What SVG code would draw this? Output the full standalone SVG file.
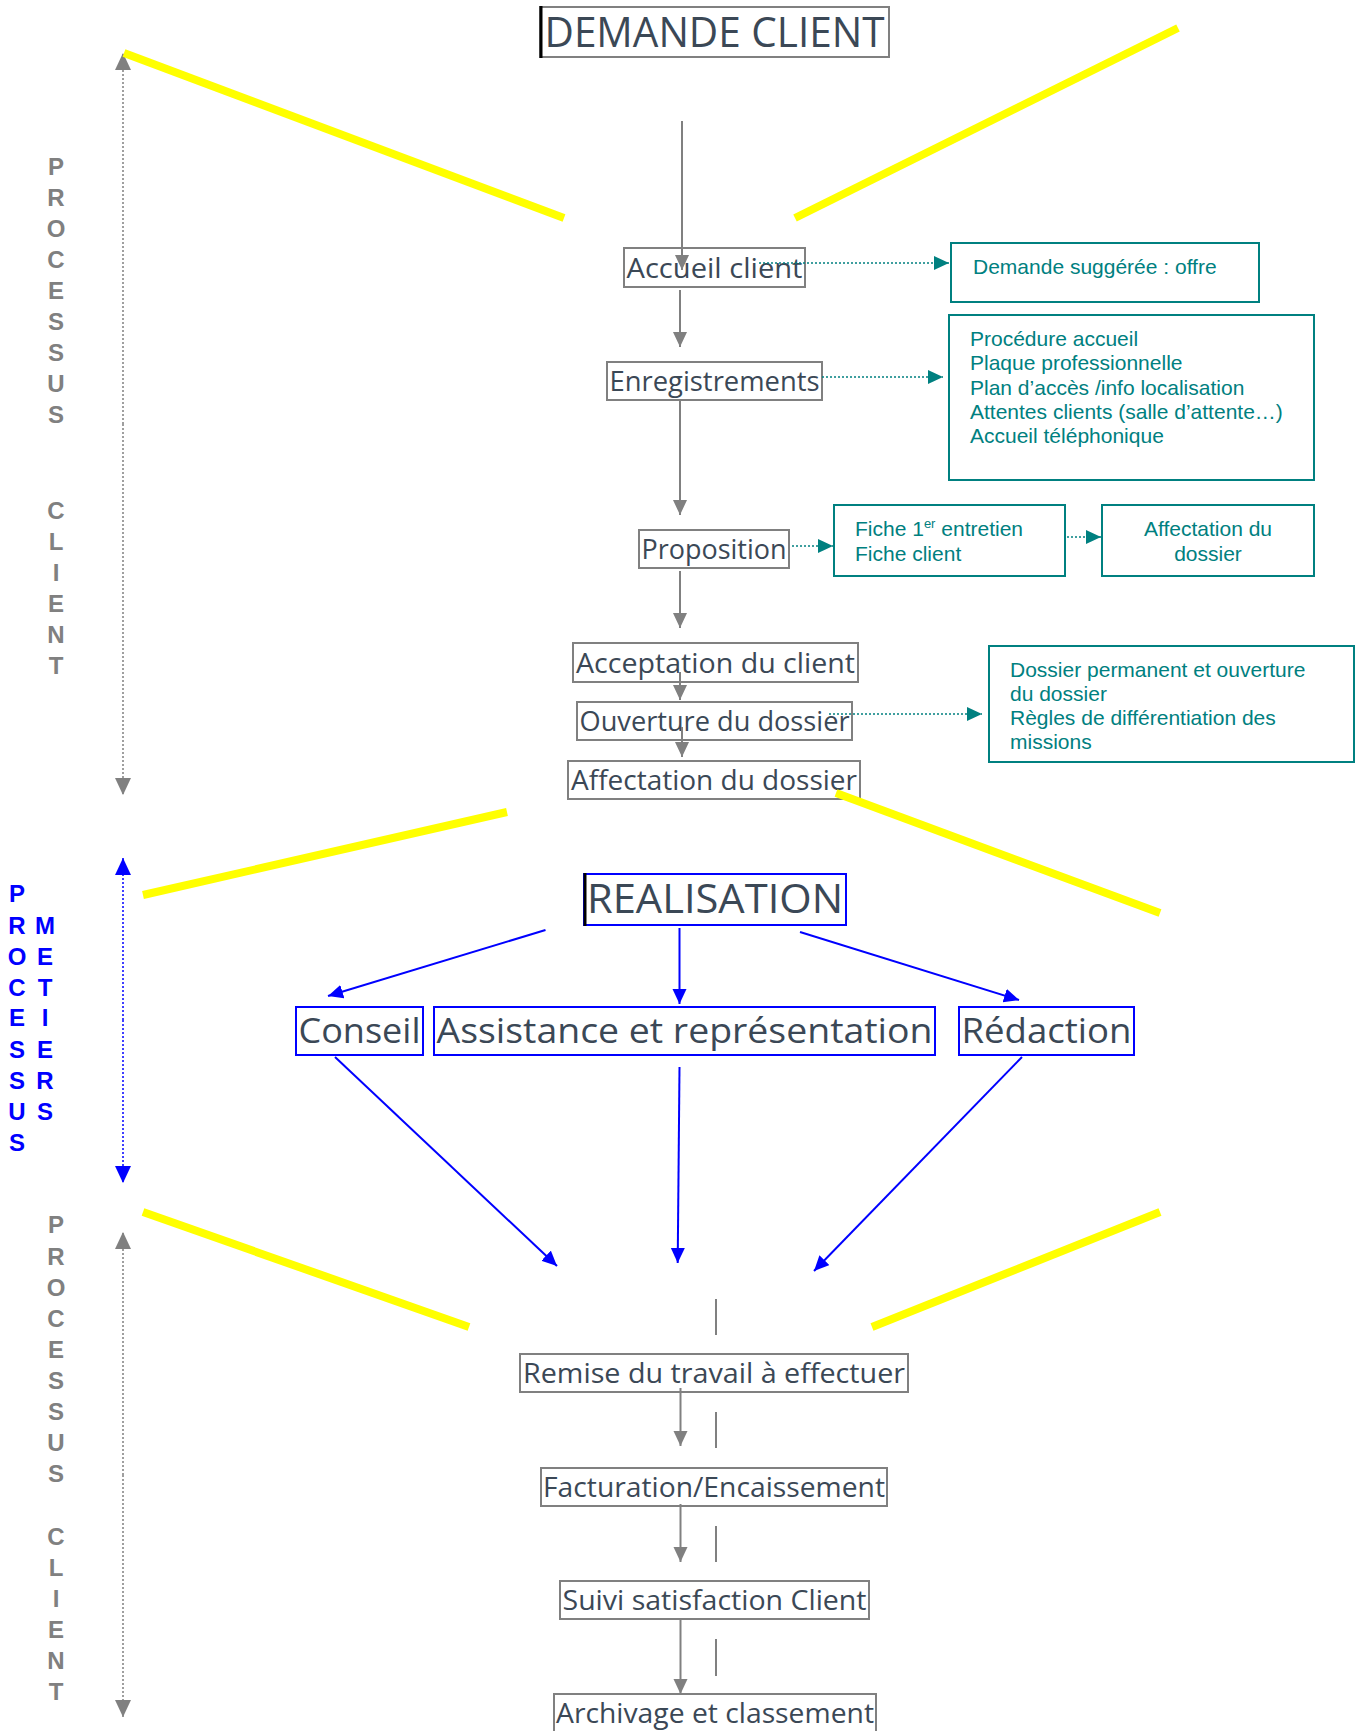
<svg xmlns="http://www.w3.org/2000/svg" width="1355" height="1731" viewBox="0 0 1355 1731">
<style>
.node rect{fill:#fff;stroke:#808080;stroke-width:2}
.bnode rect{fill:#fff;stroke:#0000FF;stroke-width:2}
.gnode rect{fill:#fff;stroke:#008080;stroke-width:2}
.nt{font-family:"Open Sans","DejaVu Sans",sans-serif;fill:#3B4856;text-anchor:middle}
.gt{font-family:"Liberation Sans",Arial,sans-serif;font-size:21px;fill:#008080}
.side{font-family:"Liberation Sans",Arial,sans-serif;font-weight:bold;font-size:24px;text-anchor:middle}
.g{stroke:#808080;stroke-width:2;fill:none}
.b{stroke:#0000FF;stroke-width:2;fill:none}
.t{stroke:#008080;stroke-width:1.6;stroke-dasharray:2 2;fill:none}
.sg{stroke:#808080;stroke-width:1.5;stroke-dasharray:2 2;fill:none}
.sb{stroke:#0000FF;stroke-width:1.5;stroke-dasharray:2 2;fill:none}
.y{stroke:#FFFF00;stroke-width:8;fill:none}
</style>
<defs>
<marker id="ag" markerUnits="userSpaceOnUse" markerWidth="16" markerHeight="16" refX="15" refY="7" orient="auto"><path d="M0,0 L15,7 L0,14 z" fill="#808080"/></marker>
<marker id="ab" markerUnits="userSpaceOnUse" markerWidth="16" markerHeight="16" refX="15" refY="7" orient="auto"><path d="M0,0 L15,7 L0,14 z" fill="#0000FF"/></marker>
<marker id="at" markerUnits="userSpaceOnUse" markerWidth="16" markerHeight="16" refX="15" refY="7" orient="auto"><path d="M0,0 L15,7 L0,14 z" fill="#008080"/></marker>
<marker id="as" markerUnits="userSpaceOnUse" markerWidth="18" markerHeight="18" refX="17" refY="8" orient="auto"><path d="M0,0 L17,8 L0,16 z" fill="#808080"/></marker>
<marker id="asb" markerUnits="userSpaceOnUse" markerWidth="18" markerHeight="18" refX="17" refY="8" orient="auto"><path d="M0,0 L17,8 L0,16 z" fill="#0000FF"/></marker>
</defs>

<g id="side-labels">
<g class="side" fill="#808080">
<text x="56" y="175">P</text><text x="56" y="206">R</text><text x="56" y="237">O</text><text x="56" y="268">C</text><text x="56" y="299">E</text><text x="56" y="330">S</text><text x="56" y="361">S</text><text x="56" y="392">U</text><text x="56" y="423">S</text>
<text x="56" y="519">C</text><text x="56" y="550">L</text><text x="56" y="581">I</text><text x="56" y="612">E</text><text x="56" y="643">N</text><text x="56" y="674">T</text>
</g>
<g class="side" fill="#0000FF">
<text x="17" y="902">P</text><text x="17" y="934">R</text><text x="17" y="965">O</text><text x="17" y="996">C</text><text x="17" y="1026">E</text><text x="17" y="1058">S</text><text x="17" y="1089">S</text><text x="17" y="1120">U</text><text x="17" y="1151">S</text>
<text x="45" y="934">M</text><text x="45" y="965">E</text><text x="45" y="996">T</text><text x="45" y="1026">I</text><text x="45" y="1058">E</text><text x="45" y="1089">R</text><text x="45" y="1120">S</text>
</g>
<g class="side" fill="#808080">
<text x="56" y="1233">P</text><text x="56" y="1265">R</text><text x="56" y="1296">O</text><text x="56" y="1327">C</text><text x="56" y="1358">E</text><text x="56" y="1389">S</text><text x="56" y="1420">S</text><text x="56" y="1451">U</text><text x="56" y="1482">S</text>
<text x="56" y="1545">C</text><text x="56" y="1576">L</text><text x="56" y="1607">I</text><text x="56" y="1638">E</text><text x="56" y="1669">N</text><text x="56" y="1700">T</text>
</g>
</g>

<g id="n-demande" class="node"><rect x="540" y="7" width="349" height="50"/><line x1="541" y1="6" x2="541" y2="58" stroke="#000" stroke-width="3"/><text class="nt" x="714.5" y="47" font-size="42" textLength="340" lengthAdjust="spacingAndGlyphs">DEMANDE CLIENT</text></g>
<g id="n-accueil" class="node"><rect x="624" y="248" width="181" height="39"/><text class="nt" x="714.5" y="278" font-size="28" textLength="176" lengthAdjust="spacingAndGlyphs">Accueil client</text></g>
<g id="n-enreg" class="node"><rect x="607" y="362" width="215" height="38"/><text class="nt" x="714.5" y="391" font-size="28" textLength="210" lengthAdjust="spacingAndGlyphs">Enregistrements</text></g>
<g id="n-prop" class="node"><rect x="639" y="530" width="150" height="38"/><text class="nt" x="714" y="559" font-size="28" textLength="145" lengthAdjust="spacingAndGlyphs">Proposition</text></g>
<g id="n-accept" class="node"><rect x="573" y="643" width="285" height="39"/><text class="nt" x="715.5" y="673" font-size="28" textLength="279" lengthAdjust="spacingAndGlyphs">Acceptation du client</text></g>
<g id="n-ouvert" class="node"><rect x="577" y="702" width="275" height="38"/><text class="nt" x="714.5" y="731" font-size="28" textLength="270" lengthAdjust="spacingAndGlyphs">Ouverture du dossier</text></g>
<g id="n-affect" class="node"><rect x="568" y="761" width="292" height="38"/><text class="nt" x="714" y="790" font-size="28" textLength="286" lengthAdjust="spacingAndGlyphs">Affectation du dossier</text></g>

<g id="n-realisation" class="bnode"><rect x="584" y="874" width="262" height="51"/><line x1="585" y1="873" x2="585" y2="926" stroke="#000" stroke-width="3"/><text class="nt" x="715" y="913" font-size="40" textLength="256" lengthAdjust="spacingAndGlyphs">REALISATION</text></g>
<g id="n-conseil" class="bnode"><rect x="296" y="1007" width="127" height="48"/><text class="nt" x="359.5" y="1043" font-size="35" textLength="122" lengthAdjust="spacingAndGlyphs">Conseil</text></g>
<g id="n-assist" class="bnode"><rect x="434" y="1007" width="501" height="48"/><text class="nt" x="684.5" y="1043" font-size="35" textLength="496" lengthAdjust="spacingAndGlyphs">Assistance et représentation</text></g>
<g id="n-redaction" class="bnode"><rect x="959" y="1007" width="175" height="48"/><text class="nt" x="1046.5" y="1043" font-size="35" textLength="170" lengthAdjust="spacingAndGlyphs">Rédaction</text></g>

<g id="n-remise" class="node"><rect x="520" y="1354" width="388" height="38"/><text class="nt" x="714" y="1383" font-size="28" textLength="382" lengthAdjust="spacingAndGlyphs">Remise du travail à effectuer</text></g>
<g id="n-factur" class="node"><rect x="541" y="1468" width="346" height="38"/><text class="nt" x="714" y="1497" font-size="28" textLength="342" lengthAdjust="spacingAndGlyphs">Facturation/Encaissement</text></g>
<g id="n-suivi" class="node"><rect x="560" y="1581" width="309" height="38"/><text class="nt" x="714.5" y="1610" font-size="28" textLength="304" lengthAdjust="spacingAndGlyphs">Suivi satisfaction Client</text></g>
<g id="n-archiv" class="node"><rect x="554" y="1694" width="322" height="40"/><text class="nt" x="715" y="1723" font-size="28" textLength="318" lengthAdjust="spacingAndGlyphs">Archivage et classement</text></g>

<g id="g-demande" class="gnode"><rect x="951" y="243" width="308" height="59"/><text class="gt" x="973" y="274">Demande suggérée : offre</text></g>
<g id="g-procedure" class="gnode"><rect x="949" y="315" width="365" height="165"/>
<text class="gt" x="970" y="346">Procédure accueil</text>
<text class="gt" x="970" y="370">Plaque professionnelle</text>
<text class="gt" x="970" y="395">Plan d’accès /info localisation</text>
<text class="gt" x="970" y="419">Attentes clients (salle d’attente…)</text>
<text class="gt" x="970" y="443">Accueil téléphonique</text></g>
<g id="g-fiche" class="gnode"><rect x="834" y="505" width="231" height="71"/>
<text class="gt" x="855" y="536">Fiche 1<tspan font-size="13" dy="-8">er</tspan><tspan dy="8"> entretien</tspan></text>
<text class="gt" x="855" y="561">Fiche client</text></g>
<g id="g-affect" class="gnode"><rect x="1102" y="505" width="212" height="71"/>
<text class="gt" x="1208" y="536" text-anchor="middle">Affectation du</text>
<text class="gt" x="1208" y="561" text-anchor="middle">dossier</text></g>
<g id="g-dossier" class="gnode"><rect x="989" y="646" width="365" height="116"/>
<text class="gt" x="1010" y="677">Dossier permanent et ouverture</text>
<text class="gt" x="1010" y="701">du dossier</text>
<text class="gt" x="1010" y="725">Règles de différentiation des</text>
<text class="gt" x="1010" y="749">missions</text></g>

<g id="connectors">
<line class="g" x1="682" y1="121" x2="682" y2="270" marker-end="url(#ag)"/>
<line class="g" x1="680" y1="290" x2="680" y2="347" marker-end="url(#ag)"/>
<line class="g" x1="680" y1="400" x2="680" y2="515" marker-end="url(#ag)"/>
<line class="g" x1="680" y1="571" x2="680" y2="628" marker-end="url(#ag)"/>
<line class="g" x1="680" y1="672" x2="680" y2="700" marker-end="url(#ag)"/>
<line class="g" x1="682" y1="727" x2="682" y2="757" marker-end="url(#ag)"/>
<line class="t" x1="759" y1="263" x2="949" y2="263" marker-end="url(#at)"/>
<line class="t" x1="822" y1="377" x2="943" y2="377" marker-end="url(#at)"/>
<line class="t" x1="792" y1="546" x2="833" y2="546" marker-end="url(#at)"/>
<line class="t" x1="1067" y1="537" x2="1101" y2="537" marker-end="url(#at)"/>
<line class="t" x1="829" y1="714" x2="982" y2="714" marker-end="url(#at)"/>
<line class="b" x1="545.5" y1="930" x2="328" y2="996" marker-end="url(#ab)"/>
<line class="b" x1="679.5" y1="928" x2="679.5" y2="1004" marker-end="url(#ab)"/>
<line class="b" x1="800" y1="932" x2="1019" y2="1000" marker-end="url(#ab)"/>
<line class="b" x1="335" y1="1057" x2="557" y2="1266" marker-end="url(#ab)"/>
<line class="b" x1="679.5" y1="1067" x2="677.7" y2="1263" marker-end="url(#ab)"/>
<line class="b" x1="1022" y1="1057" x2="814" y2="1271" marker-end="url(#ab)"/>
<line class="g" x1="680.5" y1="1388" x2="680.5" y2="1446" marker-end="url(#ag)"/>
<line class="g" x1="680.5" y1="1504" x2="680.5" y2="1562" marker-end="url(#ag)"/>
<line class="g" x1="680.5" y1="1619" x2="680.5" y2="1694" marker-end="url(#ag)"/>
<line class="g" x1="716" y1="1299" x2="716" y2="1335"/>
<line class="g" x1="716" y1="1412" x2="716" y2="1448"/>
<line class="g" x1="716" y1="1526" x2="716" y2="1562"/>
<line class="g" x1="716" y1="1639" x2="716" y2="1676"/>
<line class="sg" x1="123" y1="424" x2="123" y2="53" marker-end="url(#as)"/>
<line class="sg" x1="123" y1="424" x2="123" y2="795" marker-end="url(#as)"/>
<line class="sb" x1="123" y1="1020" x2="123" y2="858" marker-end="url(#asb)"/>
<line class="sb" x1="123" y1="1020" x2="123" y2="1183" marker-end="url(#asb)"/>
<line class="sg" x1="123" y1="1475" x2="123" y2="1232" marker-end="url(#as)"/>
<line class="sg" x1="123" y1="1475" x2="123" y2="1717" marker-end="url(#as)"/>
</g>

<g id="yellow-lines">
<line class="y" x1="124" y1="53" x2="564" y2="218"/>
<line class="y" x1="1178" y1="28" x2="795" y2="218"/>
<line class="y" x1="143" y1="895" x2="507" y2="812"/>
<line class="y" x1="836" y1="793" x2="1160" y2="913"/>
<line class="y" x1="143" y1="1212" x2="469" y2="1327"/>
<line class="y" x1="1160" y1="1212" x2="872" y2="1327"/>
</g>
</svg>
